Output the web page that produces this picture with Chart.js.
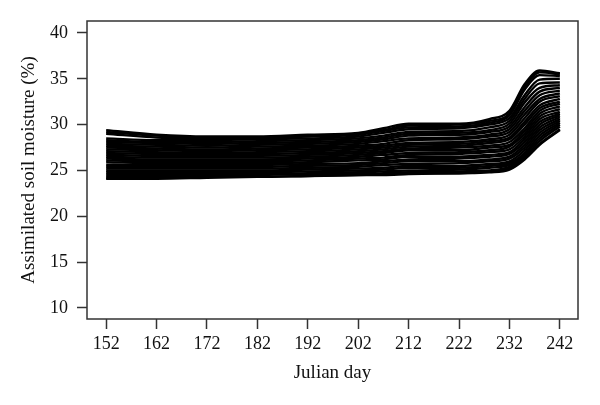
<!DOCTYPE html>
<html>
<head>
<meta charset="utf-8">
<script src="https://cdn.jsdelivr.net/npm/chart.js@4/dist/chart.umd.min.js"></script>
<style>
  html, body { margin: 0; padding: 0; background: #fff; }
  #wrap { width: 600px; height: 405px; }
</style>
</head>
<body>
<div id="wrap"><canvas id="myChart" width="600" height="405"></canvas></div>
<script>
var days = [152, 162, 172, 182, 192, 202, 207, 212, 222, 228, 232, 235, 238, 242];
var xTicks = [152, 162, 172, 182, 192, 202, 212, 222, 232, 242];
var yTicks = [10, 15, 20, 25, 30, 35, 40];

// ensemble members (top to bottom)
var members = [
  [29.4, 28.9, 28.7, 28.7, 28.9, 29.1, 29.6, 30.1, 30.1, 30.6, 31.5, 34.4, 35.9, 35.6],
  [29.2, 28.8, 28.6, 28.6, 28.8, 29.0, 29.4, 29.9, 30.0, 30.4, 31.2, 34.1, 35.7, 35.5],
  [29.0, 28.6, 28.5, 28.5, 28.7, 28.9, 29.3, 29.7, 29.8, 30.2, 31.0, 33.8, 35.4, 35.3],
  [28.5, 28.3, 28.3, 28.4, 28.5, 28.7, 29.1, 29.5, 29.6, 30.0, 30.7, 33.2, 34.9, 35.0],
  [28.3, 28.1, 28.1, 28.2, 28.3, 28.5, 28.8, 29.2, 29.3, 29.7, 30.4, 32.8, 34.5, 34.6],
  [28.1, 28.0, 27.9, 28.0, 28.1, 28.3, 28.6, 29.0, 29.1, 29.4, 30.1, 32.4, 34.0, 34.3],
  [27.9, 27.8, 27.7, 27.8, 27.9, 28.1, 28.4, 28.8, 28.9, 29.2, 29.8, 31.9, 33.6, 34.0],
  [27.7, 27.6, 27.5, 27.6, 27.7, 27.9, 28.2, 28.5, 28.6, 28.9, 29.5, 31.5, 33.2, 33.7],
  [27.5, 27.4, 27.3, 27.4, 27.5, 27.7, 27.9, 28.3, 28.4, 28.7, 29.2, 31.1, 32.8, 33.4],
  [27.3, 27.2, 27.1, 27.2, 27.3, 27.5, 27.7, 28.0, 28.1, 28.4, 28.9, 30.7, 32.5, 33.1],
  [27.1, 27.0, 26.9, 27.0, 27.1, 27.3, 27.5, 27.8, 27.9, 28.2, 28.6, 30.3, 32.1, 32.8],
  [26.9, 26.8, 26.8, 26.8, 26.9, 27.1, 27.3, 27.6, 27.7, 28.0, 28.4, 30.0, 31.8, 32.5],
  [26.7, 26.6, 26.6, 26.6, 26.7, 26.9, 27.1, 27.4, 27.5, 27.7, 28.1, 29.6, 31.5, 32.3],
  [26.5, 26.4, 26.4, 26.4, 26.5, 26.7, 26.9, 27.2, 27.2, 27.5, 27.8, 29.3, 31.2, 32.0],
  [26.3, 26.2, 26.2, 26.2, 26.3, 26.5, 26.7, 26.9, 27.0, 27.2, 27.6, 29.0, 30.9, 31.7],
  [26.1, 26.0, 26.0, 26.0, 26.1, 26.3, 26.4, 26.7, 26.8, 27.0, 27.3, 28.7, 30.6, 31.4],
  [25.9, 25.8, 25.8, 25.8, 25.9, 26.1, 26.2, 26.5, 26.5, 26.7, 27.0, 28.4, 30.3, 31.2],
  [25.6, 25.6, 25.6, 25.6, 25.7, 25.8, 26.0, 26.2, 26.3, 26.5, 26.8, 28.1, 30.0, 31.0],
  [25.4, 25.4, 25.4, 25.4, 25.5, 25.6, 25.8, 26.0, 26.0, 26.2, 26.5, 27.8, 29.7, 30.8],
  [25.2, 25.2, 25.2, 25.2, 25.3, 25.4, 25.6, 25.7, 25.8, 26.0, 26.3, 27.5, 29.4, 30.6],
  [25.0, 25.0, 25.0, 25.0, 25.1, 25.2, 25.3, 25.5, 25.5, 25.7, 26.0, 27.2, 29.1, 30.4],
  [24.8, 24.8, 24.8, 24.8, 24.9, 25.0, 25.1, 25.3, 25.3, 25.5, 25.8, 26.9, 28.8, 30.2],
  [24.6, 24.6, 24.6, 24.6, 24.7, 24.8, 24.9, 25.0, 25.1, 25.3, 25.6, 26.7, 28.5, 30.0],
  [24.4, 24.4, 24.4, 24.5, 24.6, 24.6, 24.7, 24.8, 24.9, 25.0, 25.4, 26.5, 28.2, 29.8],
  [24.2, 24.2, 24.3, 24.3, 24.4, 24.5, 24.6, 24.7, 24.7, 24.9, 25.2, 26.3, 27.9, 29.5],
  [24.1, 24.1, 24.2, 24.3, 24.4, 24.5, 24.5, 24.6, 24.7, 24.8, 25.1, 26.2, 27.8, 29.4]
];

var datasets = members.map(function (m) {
  return {
    data: m.map(function (v, i) { return { x: days[i], y: v }; }),
    borderColor: '#000',
    borderWidth: 2.4,
    pointRadius: 0,
    fill: false,
    cubicInterpolationMode: 'monotone'
  };
});

// full frame round the plot area
var boxPlugin = {
  id: 'box',
  afterDraw: function (chart) {
    var a = chart.chartArea, ctx = chart.ctx;
    ctx.save();
    ctx.strokeStyle = '#333';
    ctx.lineWidth = 1.5;
    ctx.strokeRect(a.left, a.top, a.right - a.left, a.bottom - a.top);
    ctx.restore();
  }
};

var serif = '"Liberation Serif", "DejaVu Serif", serif';
var tickFont = { family: serif, size: 18 };
var titleFont = { family: serif, size: 19 };

var ctx = document.getElementById('myChart').getContext('2d');
var chart = new Chart(ctx, {
  type: 'line',
  data: { datasets: datasets },
  plugins: [boxPlugin],
  options: {
    responsive: false,
    animation: false,
    layout: { padding: { left: 0, right: 22, top: 21, bottom: 0 } },
    plugins: { legend: { display: false }, tooltip: { enabled: false } },
    scales: {
      x: {
        type: 'linear',
        min: 148.2,
        max: 245.6,
        afterBuildTicks: function (s) { s.ticks = xTicks.map(function (v) { return { value: v }; }); },
        afterFit: function (s) { s.height = 86; },
        grid: { drawOnChartArea: false, drawTicks: true, tickLength: 10, tickColor: '#333', tickWidth: 1.5 },
        border: { display: false },
        ticks: { color: '#111', font: tickFont, padding: 4, maxRotation: 0, autoSkip: false },
        title: { display: true, text: 'Julian day', color: '#111', font: titleFont, padding: { top: 0, bottom: 21 } }
      },
      y: {
        min: 8.8,
        max: 41.3,
        afterBuildTicks: function (s) { s.ticks = yTicks.map(function (v) { return { value: v }; }); },
        afterFit: function (s) { s.width = 87; },
        grid: { drawOnChartArea: false, drawTicks: true, tickLength: 10, tickColor: '#333', tickWidth: 1.5 },
        border: { display: false },
        ticks: { color: '#111', font: tickFont, padding: 9, autoSkip: false },
        title: { display: true, text: 'Assimilated soil moisture (%)', color: '#111', font: titleFont, padding: { top: 18, bottom: 0 } }
      }
    }
  }
});
</script>
</body>
</html>
